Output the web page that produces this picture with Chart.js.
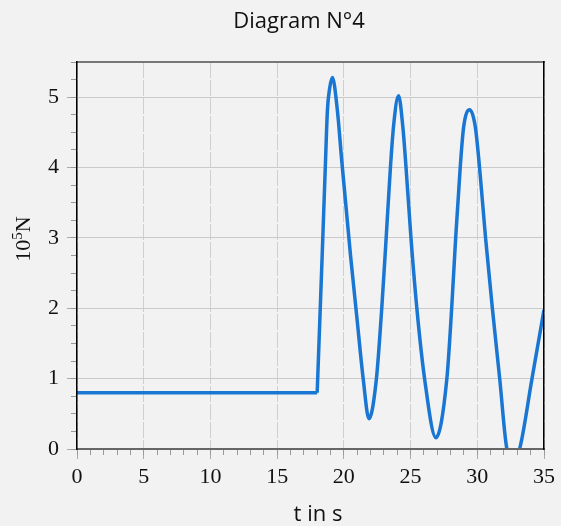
<!DOCTYPE html>
<html>
<head>
<meta charset="utf-8">
<script src="https://cdn.jsdelivr.net/npm/chart.js"></script>
<style>
  body { margin: 0; background: #f2f2f2; }
  #wrap { width: 561px; height: 526px; position: relative; }
</style>
</head>
<body>
<div id="wrap"><canvas id="myChart"></canvas></div>
<script>
// values (t in s, force in 10^5 N)
const times = [0, 18.0, 18.39, 18.61, 18.77, 18.93, 19.14, 19.51, 19.84, 20.5, 20.96, 21.46, 21.88,
  22.43, 22.84, 23.17, 23.49, 23.73, 24.1, 24.42, 24.66, 25.03, 25.47, 26.05, 26.9,
  27.72, 28.08, 28.38, 28.72, 28.98, 29.43, 29.85, 30.17, 30.62, 31.13, 31.68, 32.22, 32.7, 33.17, 34.1, 35];
const force = [0.8, 0.8, 2.83, 4.01, 4.82, 5.12, 5.28, 4.82, 4.1, 2.75, 1.9, 0.98, 0.43,
  0.98, 2.0, 3.0, 4.0, 4.6, 5.02, 4.58, 4.0, 3.0, 2.0, 1.0, 0.16,
  1.0, 2.0, 3.0, 4.0, 4.58, 4.82, 4.58, 4.0, 3.0, 2.0, 1.0, 0, -0.15, 0, 1.0, 1.98];

// the load is constant up to this index, then it starts to oscillate
const flatEnd = 1;

const titleText = 'Diagram N°4';
const xTitle = 't in s';
const yTitle = ['10', '5', 'N']; // 10^5 N

const lineColor = '#1976d2';
const tickFont = { family: 'Liberation Serif', size: 22 };

// draws the chart title and both axis titles
const titlesPlugin = {
  id: 'titles',
  afterDraw(chart) {
    const ctx = chart.ctx;
    ctx.save();
    ctx.fillStyle = '#111';
    ctx.textAlign = 'center';
    ctx.textBaseline = 'alphabetic';
    ctx.font = '22px "Open Sans"';
    ctx.fillText(titleText, 299, 28);
    ctx.fillText(xTitle, 318, 521);

    // y title, rotated, with a superscript
    ctx.translate(30, 239);
    ctx.rotate(-Math.PI / 2);
    ctx.textAlign = 'left';
    ctx.font = '22px "Liberation Serif"';
    const w1 = ctx.measureText(yTitle[0]).width;
    const w3 = ctx.measureText(yTitle[2]).width;
    ctx.font = '15px "Liberation Serif"';
    const w2 = ctx.measureText(yTitle[1]).width;
    let x = -(w1 + w2 + w3) / 2;
    ctx.font = '22px "Liberation Serif"';
    ctx.fillText(yTitle[0], x, 0);
    x += w1;
    ctx.font = '15px "Liberation Serif"';
    ctx.fillText(yTitle[1], x, -8);
    x += w2;
    ctx.font = '22px "Liberation Serif"';
    ctx.fillText(yTitle[2], x, 0);
    ctx.restore();
  }
};

const points = times.map((t, i) => ({ x: t, y: force[i] }));

const ctx = document.getElementById('myChart').getContext('2d');

new Chart(ctx, {
  type: 'line',
  data: {
    datasets: [
      {
        // constant part, straight line with a sharp corner at the end
        data: points.slice(0, flatEnd + 1),
        borderColor: lineColor,
        borderWidth: 3.5,
        pointRadius: 0,
        tension: 0,
        clip: 0
      },
      {
        // oscillating part
        data: points.slice(flatEnd),
        borderColor: lineColor,
        borderWidth: 3.5,
        pointRadius: 0,
        cubicInterpolationMode: 'monotone',
        clip: 0
      }
    ]
  },
  options: {
    responsive: true,
    maintainAspectRatio: false,
    animation: false,
    layout: { padding: { top: 62, right: 17, left: 0, bottom: 0 } },
    plugins: {
      legend: { display: false },
      title: { display: false },
      tooltip: { enabled: false }
    },
    scales: {
      x: {
        type: 'linear',
        position: 'bottom',
        weight: 1,
        min: 0,
        max: 35,
        ticks: { stepSize: 5, font: tickFont, color: '#111', padding: 5, maxRotation: 0 },
        grid: { color: '#cfcfcf', tickColor: '#aaa', tickLength: 10, lineWidth: 1 },
        border: { color: '#666', width: 2, dash: [16, 2], z: 1 },
        afterFit: s => { s.height = 77; }
      },
      xMinor: {
        type: 'linear',
        position: 'bottom',
        weight: 0,
        min: 0,
        max: 35,
        ticks: { stepSize: 1, display: false },
        grid: { drawOnChartArea: false, tickColor: '#999', tickLength: 6 },
        border: { display: false },
        afterFit: s => { s.height = 0; }
      },
      xTop: {
        type: 'linear',
        position: 'top',
        min: 0,
        max: 35,
        ticks: { display: false },
        grid: { display: false },
        border: { color: '#777', width: 2, z: 1 },
        afterFit: s => { s.height = 0; }
      },
      y: {
        type: 'linear',
        position: 'left',
        weight: 1,
        min: 0,
        max: 5.5,
        ticks: { stepSize: 1, includeBounds: false, font: tickFont, color: '#111', padding: 8 },
        grid: { color: '#cacaca', tickColor: '#aaa', tickLength: 10, lineWidth: 1 },
        border: { color: '#000', width: 1.5, z: 1 },
        afterFit: s => { s.width = 77; }
      },
      yMinor: {
        type: 'linear',
        position: 'left',
        weight: 0,
        min: 0,
        max: 5.5,
        ticks: { stepSize: 0.25, display: false },
        grid: { drawOnChartArea: false, tickColor: '#999', tickLength: 6 },
        border: { display: false },
        afterFit: s => { s.width = 0; }
      },
      yRight: {
        type: 'linear',
        position: 'right',
        min: 0,
        max: 5.5,
        ticks: { display: false },
        grid: { display: false },
        border: { color: '#000', width: 1.5, z: 1 },
        afterFit: s => { s.width = 0; }
      }
    }
  },
  plugins: [titlesPlugin]
});
</script>
</body>
</html>
